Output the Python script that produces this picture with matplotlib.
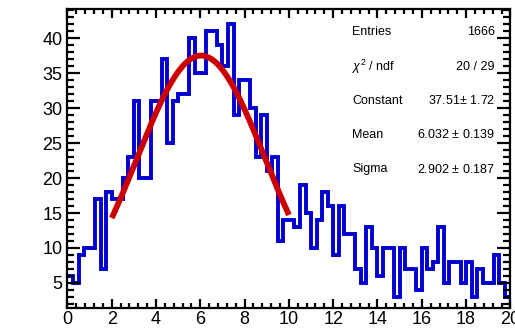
import numpy as np
import matplotlib
matplotlib.use("Agg")
import matplotlib.pyplot as plt
from matplotlib.ticker import MultipleLocator

# bin contents, 80 bins of 0.25 from 0 to 20
counts = [6, 5, 9, 10, 10, 17, 7, 18, 17, 17,
          20, 23, 31, 20, 20, 31, 31, 37, 25, 31,
          32, 32, 40, 35, 35, 41, 41, 39, 36, 42,
          29, 34, 34, 30, 23, 29, 21, 23, 11, 14,
          14, 13, 19, 15, 10, 14, 18, 16, 9, 16,
          12, 12, 7, 5, 13, 10, 6, 10, 10, 3,
          10, 7, 7, 4, 10, 7, 8, 13, 5, 8,
          8, 5, 8, 3, 7, 5, 5, 9, 5, 3]
x_lo, x_hi = 0, 20

# gaus fit parameters
fit_const = 37.51
fit_mean = 6.032
fit_sigma = 2.902
fit_range = (2, 10)

stat_names = ["Entries", r"$\chi^2$ / ndf", "Constant", "Mean", "Sigma"]
stat_values = ["1666", "20 / 29", "37.51$\\pm$ 1.72", "6.032 $\\pm$ 0.139", "2.902 $\\pm$ 0.187"]

plt.rcParams['font.family'] = ['Liberation Sans', 'DejaVu Sans']
plt.rcParams['mathtext.fontset'] = 'custom'
plt.rcParams['mathtext.rm'] = 'Liberation Sans'
plt.rcParams['mathtext.it'] = 'Liberation Sans:italic'

fig = plt.figure(figsize=(5.15, 3.28), dpi=100)
ax = fig.add_axes([0.131, 0.061, 0.860, 0.912])

edges = np.linspace(x_lo, x_hi, len(counts) + 1)
ax.stairs(counts, edges, color="#0000d0", linewidth=2.8, baseline=None)

xf = np.linspace(fit_range[0], fit_range[1], 200)
yf = fit_const * np.exp(-0.5 * ((xf - fit_mean) / fit_sigma) ** 2)
ax.plot(xf, yf, color="#cc0000", linewidth=4.2, solid_capstyle="butt")

ax.set_xlim(x_lo, x_hi)
ax.set_ylim(1.42, 44.2)

ax.xaxis.set_major_locator(MultipleLocator(2))
ax.xaxis.set_minor_locator(MultipleLocator(0.4))
ax.yaxis.set_major_locator(MultipleLocator(5))
ax.yaxis.set_minor_locator(MultipleLocator(1))

ax.tick_params(which="both", direction="in", top=True, right=True, width=1.6, labelsize=13)
ax.tick_params(axis="x", which="major", length=6.5, pad=2)
ax.tick_params(axis="x", which="minor", length=3.3)
ax.tick_params(axis="y", which="major", length=9.5, pad=3.5)
ax.tick_params(axis="y", which="minor", length=4.8)
for s in ax.spines.values():
    s.set_linewidth(1.6)

# stats box (no border)
ys = [0.922, 0.807, 0.693, 0.579, 0.464]
for name, val, y in zip(stat_names, stat_values, ys):
    ax.text(0.643, y, name, transform=ax.transAxes, fontsize=9, va="center", ha="left")
    ax.text(0.965, y, val, transform=ax.transAxes, fontsize=9, va="center", ha="right")

fig.savefig("out.png", dpi=100)
